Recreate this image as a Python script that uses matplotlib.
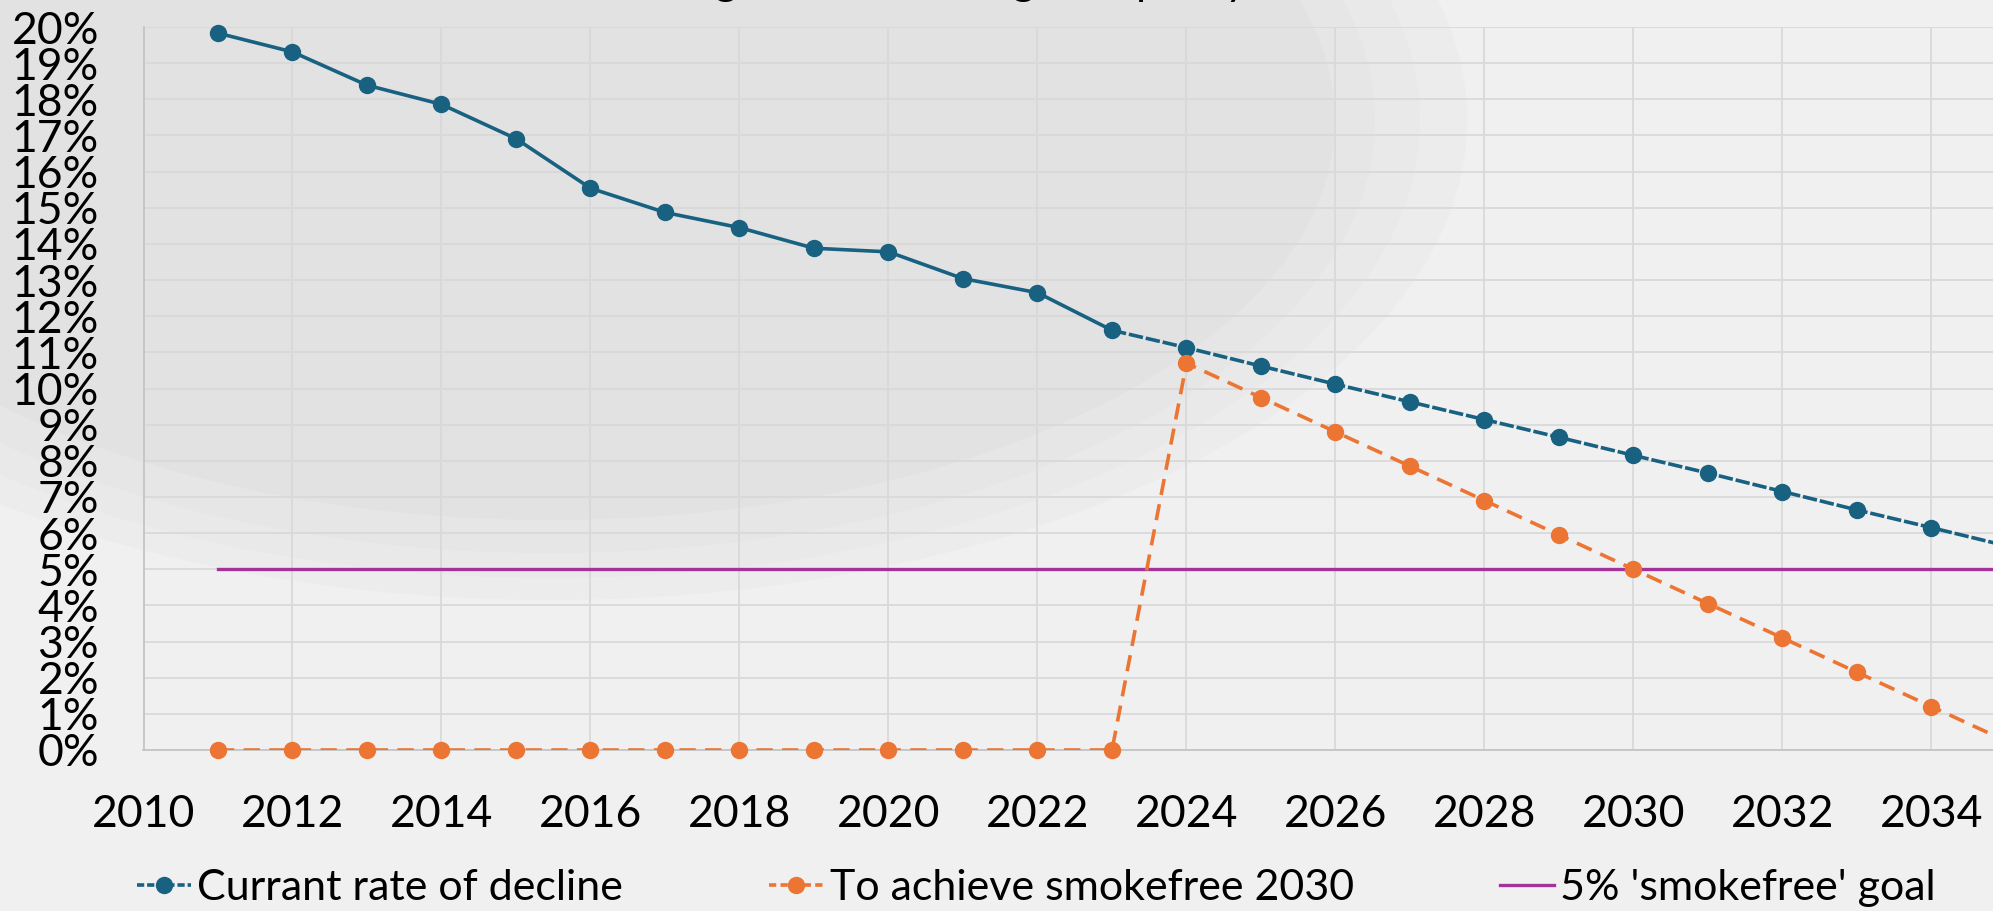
import matplotlib
matplotlib.use("Agg")
import matplotlib.pyplot as plt
from matplotlib.patches import Ellipse
from matplotlib.lines import Line2D

# data (percent of adults who smoke)
hist_years = [2011, 2012, 2013, 2014, 2015, 2016, 2017, 2018, 2019, 2020, 2021, 2022, 2023]
hist_rate = [19.83, 19.31, 18.39, 17.86, 16.91, 15.54, 14.87, 14.45, 13.88, 13.78, 13.04, 12.65, 11.61]

proj_years = [2023, 2024, 2025, 2026, 2027, 2028, 2029, 2030, 2031, 2032, 2033, 2034, 2035]
proj_rate = [11.61, 11.13, 10.62, 10.12, 9.63, 9.14, 8.65, 8.15, 7.66, 7.15, 6.64, 6.15, 5.65]

target_years = [2011, 2012, 2013, 2014, 2015, 2016, 2017, 2018, 2019, 2020, 2021, 2022, 2023,
                2024, 2025, 2026, 2027, 2028, 2029, 2030, 2031, 2032, 2033, 2034, 2035]
target_rate = [0, 0, 0, 0, 0, 0, 0, 0, 0, 0, 0, 0, 0,
               10.7, 9.75, 8.8, 7.85, 6.9, 5.95, 5.0, 4.05, 3.1, 2.15, 1.2, 0.25]

goal_years = [2011, 2036]
goal_rate = [5, 5]

labels = ["Currant rate of decline", "To achieve smokefree 2030", "5% 'smokefree' goal"]
title = "Adult smoking rate across England: policy"

BLUE = "#186181"
ORANGE = "#ec7533"
PURPLE = "#a33399"

plt.rcParams['font.family'] = ['Lato', 'DejaVu Sans']

W, H = 1993, 911
fig = plt.figure(figsize=(W / 100, H / 100), dpi=100, facecolor="#f0f0f0")

# soft radial shading behind the chart
for a, b, col in [(917, 480, "#ececec"), (870, 458, "#e9e9e9"),
                  (825, 433, "#e6e6e6"), (785, 400, "#e2e2e2")]:
    fig.patches.append(Ellipse((550 / W, 1 - 120 / H), 2 * a / W, 2 * b / H,
                               transform=fig.transFigure, facecolor=col,
                               edgecolor="none", zorder=-5))

ax = fig.add_axes([143.5 / W, 1 - 750 / H, 1 - 143.5 / W, (750 - 27) / H])
ax.set_zorder(2)
ax.patch.set_alpha(0)

lw = 2.6
ms = 11.5
ax.plot(goal_years, goal_rate, color=PURPLE, lw=2.4, zorder=3, label=labels[2])
ax.plot(hist_years, hist_rate, color=BLUE, lw=lw, marker="o", ms=ms, zorder=4, clip_on=False)
ax.plot(proj_years[1:], proj_rate[1:], color=BLUE, lw=0, marker="o", ms=ms, zorder=4)
ax.plot(proj_years, proj_rate, color=BLUE, lw=lw, ls=(0, (4, 0.8)), zorder=4)
ax.plot(target_years[:-1], target_rate[:-1], color=ORANGE, lw=0, marker="o", ms=ms,
        zorder=5, clip_on=False)
ax.plot(target_years, target_rate, color=ORANGE, lw=lw, ls=(0, (4.5, 2.6)), zorder=5)

ax.set_xlim(2010, 2010 + (W - 143.5) / 74.5)
ax.set_ylim(0, 20)
ax.set_yticks(range(0, 21))
ax.set_yticklabels([f"{v}%" for v in range(0, 21)])
ax.set_xticks(range(2010, 2036, 2))
ax.grid(True, color="#d9d9d9", lw=1.3, zorder=1)
ax.set_axisbelow(True)
for s in ["top", "right"]:
    ax.spines[s].set_visible(False)
for s in ["left", "bottom"]:
    ax.spines[s].set_color("#c4c4c4")
    ax.spines[s].set_linewidth(1.3)
ax.tick_params(axis="y", length=0, pad=32, labelsize=32)
ax.tick_params(axis="x", length=0, pad=32, labelsize=32)

handles = [
    Line2D([], [], color=BLUE, lw=lw, ls=(0, (2, 0.8)), marker="o", ms=ms),
    Line2D([], [], color=ORANGE, lw=lw, ls=(0, (2, 1.2)), marker="o", ms=ms),
    Line2D([], [], color=PURPLE, lw=2.4),
]
fig.legend(handles, labels, ncol=3, loc="center", bbox_to_anchor=(0.52, 1 - 888 / H),
           frameon=False, fontsize=31, handlelength=1.25, handletextpad=0.15,
           columnspacing=3.4, borderpad=0)

# title sits mostly above the visible area; only descenders show
fig.text(0.43, 1 + 5 / H, title, ha="center", va="baseline", fontsize=31)

fig.savefig("out.png", dpi=100, facecolor=fig.get_facecolor())
